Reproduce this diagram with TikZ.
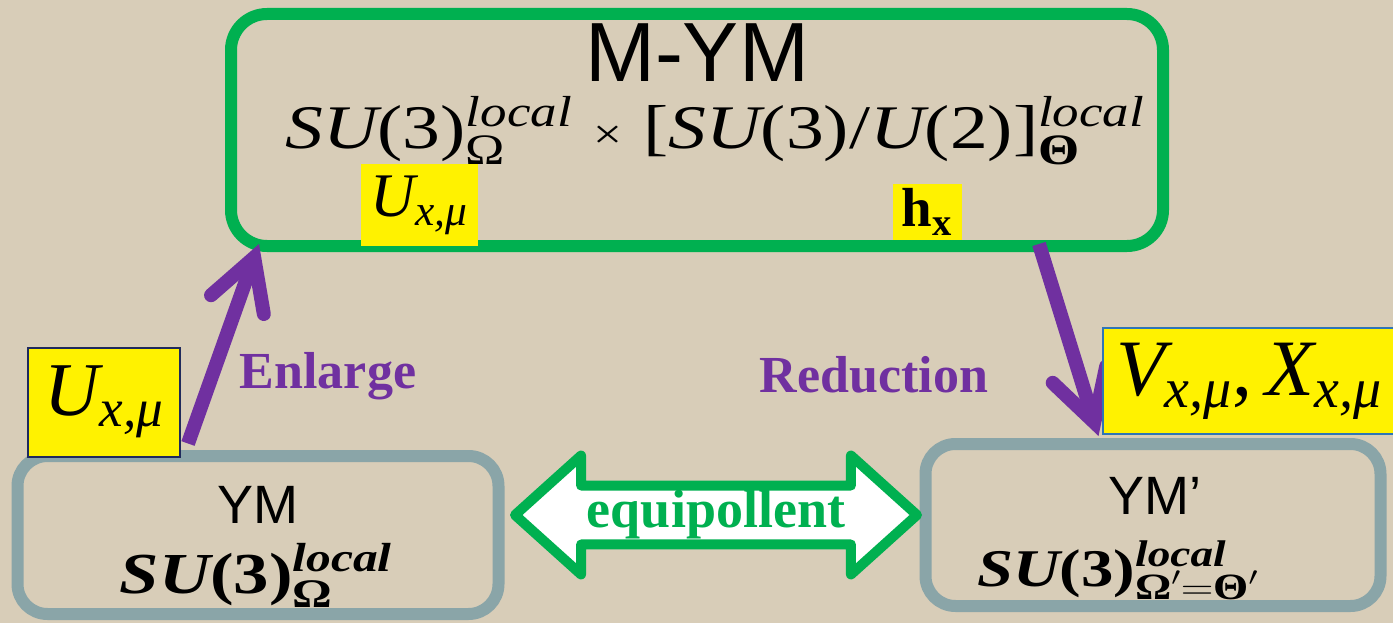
\documentclass[tikz,border=0pt]{standalone}
\usepackage{fix-cm}
\usepackage{amsmath}
\usepackage{graphicx}
\usepackage{fontspec}
\setmainfont{Liberation Serif}
\setsansfont{Liberation Sans}
\usetikzlibrary{arrows.meta,shapes.arrows}
\definecolor{PaperBeige}{HTML}{D8CDB8}
\definecolor{GroupGreen}{HTML}{00B050}
\definecolor{MapPurple}{HTML}{7030A0}
\definecolor{ModelGrey}{HTML}{8AA5A8}
\definecolor{TagNavy}{HTML}{1F2A5C}
\definecolor{TagBlue}{HTML}{2E75B6}
\newcommand{\fsz}[1]{\fontsize{#1}{#1}\selectfont}
\newcommand{\tit}[1]{\text{\itshape #1}}
\newcommand{\tbi}[1]{\text{\bfseries\itshape #1}}
\newcommand{\tbf}[1]{\text{\bfseries #1}}
\newcommand{\tits}[1]{\text{\raisebox{-0.08em}{\itshape #1}}}
\newcommand{\tbis}[1]{\text{\raisebox{-0.08em}{\bfseries\itshape #1}}}
\newcommand{\wide}[1]{\scalebox{1.22}[1]{#1}}

\begin{document}
\begin{tikzpicture}[
    x=1pt, y=-1pt,
    >={Straight Barb[length=50pt, width=56pt, line cap=round, line join=miter]},
    groupbox/.style={draw=GroupGreen, line width=12pt, rounded corners=36pt},
    modelbox/.style={draw=ModelGrey, line width=12pt, rounded corners=30pt},
    modelname/.style={font=\sffamily\fsz{54}, inner sep=0pt},
    fieldtag/.style={fill=yellow, inner sep=0pt},
    groupname/.style={anchor=base, inner sep=0pt},
    maplabel/.style={text=MapPurple, font=\fsz{52}\bfseries},
    maparrow/.style={->, draw=MapPurple, line width=14pt}
]
\useasboundingbox (0,0) rectangle (1393,623);
\fill[PaperBeige] (0,0) rectangle (1393,623);

\node[groupbox, minimum width=932pt, minimum height=232pt] (mym) at (697,130) {};
\node[font=\sffamily\fsz{84}, inner sep=0pt] (mymname) at (697,53) {M-YM};
\node[groupname, font=\fsz{62}] (mymgroup) at (715,149) {\wide{$\tit{SU}\text{(3)}^{\tits{local}}_{\text{Ω}}\;\text{\fsz{42}×}\;\text{[}\tit{SU}\text{(3)/}\tit{U}\text{(2)]}^{\tits{local}}_{\tbf{Θ}}$}};

\node[modelbox, minimum width=481pt, minimum height=158pt] (ym) at (258,535) {};
\node[modelname] (ymname) at (258,505) {YM};
\node[groupname, font=\fsz{58}] (ymgroup) at (256,593) {\wide{$\tbi{SU}\tbf{(3)}^{\tbis{local}}_{\tbf{Ω}}$}};

\node[modelbox, minimum width=455pt, minimum height=162pt] (ymp) at (1153,525) {};
\node[modelname] (ympname) at (1155,496) {YM’};
\node[groupname, font=\fsz{53}] (ympgroup) at (1118,586) {\wide{$\tbi{SU}\tbf{(3)}^{\tbis{local}}_{\tbf{Ω}'=\tbf{Θ}'}$}};

\node[fieldtag, minimum width=117pt, minimum height=81pt, font=\fsz{62}] (uin) at (419,205) {$\tit{U}_{\tit{x,μ}}$};
\node[fieldtag, minimum width=69pt, minimum height=55pt, font=\fsz{55}] (hin) at (927,212) {$\tbf{h}_{\tbf{x}}$};
\node[fieldtag, draw=TagNavy, line width=2pt, minimum width=152pt, minimum height=109pt, font=\fsz{76}] (uout) at (104,402) {$\tit{U}_{\tit{x,μ}}$};

\draw[maparrow] ([shift={(7,-14)}]uout.south east) -- ([shift={(34,-8)}]mym.south west);
\draw[maparrow] ([shift={(-130,-8)}]mym.south east) -- ([shift={(179,-2)}]ymp.north west);
\node[maplabel] (enl) at (328,376) {Enlarge};
\node[maplabel] (red) at (874,375) {Reduction};

\node[double arrow, draw=GroupGreen, fill=white, line width=10pt, line join=round,
      minimum height=402pt, minimum width=116pt, double arrow head extend=30pt,
      double arrow tip angle=84, inner sep=0pt, text=GroupGreen, font=\fsz{54}\bfseries] (eqv) at (716,515) {equipollent};

\node[fieldtag, draw=TagBlue, line width=2pt, minimum width=292pt, minimum height=106pt, font=\fsz{80}] (vxout) at (1249,381) {$\tit{V}_{\tit{x,μ}}\text{,}\,\tit{X}_{\tit{x,μ}}$};
\end{tikzpicture}
\end{document}
